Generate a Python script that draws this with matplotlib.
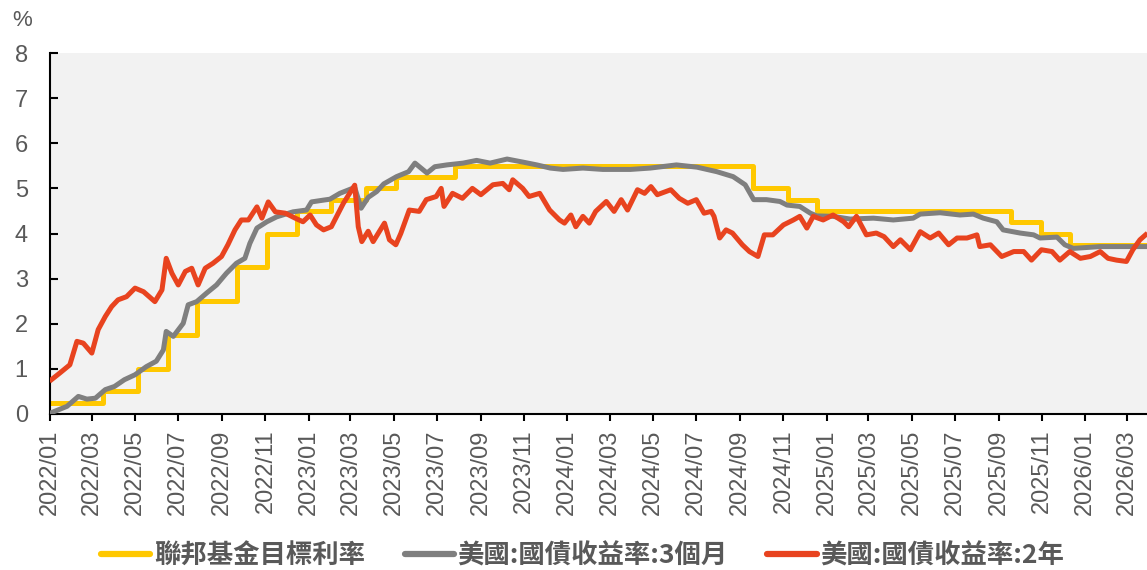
import pandas as pd
import matplotlib
matplotlib.use("Agg")
import matplotlib.pyplot as plt
import matplotlib.dates as mdates

# 聯邦基金目標利率 (上限), 階梯
fed_dates = ["2022-01-03", "2022-03-17", "2022-05-05", "2022-06-16", "2022-07-28",
             "2022-09-22", "2022-11-03", "2022-12-15", "2023-02-02", "2023-03-23",
             "2023-05-04", "2023-07-27", "2024-09-19", "2024-11-08", "2024-12-19",
             "2025-09-18", "2025-10-30", "2025-12-11", "2026-03-27"]
fed_rate = [0.25, 0.50, 1.00, 1.75, 2.50, 3.25, 4.00, 4.50, 4.75, 5.00,
            5.25, 5.50, 5.00, 4.75, 4.50, 4.25, 4.00, 3.75, 3.75]

# 美國:國債收益率:3個月
t3m_dates = ["2022-01-03", "2022-01-25", "2022-02-10", "2022-02-22", "2022-03-06",
             "2022-03-20", "2022-04-02", "2022-04-16", "2022-05-01", "2022-05-17",
             "2022-05-31", "2022-06-10", "2022-06-14", "2022-06-24", "2022-07-08",
             "2022-07-15", "2022-07-27", "2022-08-10", "2022-08-24", "2022-09-07",
             "2022-09-21", "2022-10-03", "2022-10-10", "2022-10-20", "2022-11-03",
             "2022-11-17", "2022-12-10", "2022-12-29", "2023-01-05", "2023-01-22",
             "2023-01-31", "2023-02-14", "2023-03-07", "2023-03-16", "2023-03-26",
             "2023-04-07", "2023-04-17", "2023-05-05", "2023-05-22", "2023-05-31",
             "2023-06-17", "2023-06-28", "2023-07-15", "2023-08-07", "2023-08-26",
             "2023-09-14", "2023-10-08", "2023-10-31", "2023-11-19", "2023-12-08",
             "2023-12-26", "2024-01-23", "2024-02-20", "2024-03-30", "2024-04-27",
             "2024-06-03", "2024-07-02", "2024-07-30", "2024-08-22", "2024-09-08",
             "2024-09-20", "2024-10-08", "2024-10-27", "2024-11-06", "2024-11-24",
             "2024-12-09", "2024-12-18", "2025-01-10", "2025-02-03", "2025-03-08",
             "2025-04-05", "2025-05-03", "2025-05-13", "2025-06-10", "2025-07-08",
             "2025-07-27", "2025-08-10", "2025-08-29", "2025-09-07", "2025-10-01",
             "2025-10-20", "2025-10-29", "2025-11-22", "2025-12-03", "2025-12-15",
             "2026-01-22", "2026-02-24", "2026-03-27"]
t3m = [0.03, 0.17, 0.39, 0.33, 0.35, 0.54, 0.61, 0.76, 0.87, 1.05,
       1.17, 1.42, 1.83, 1.72, 2.01, 2.42, 2.49, 2.68, 2.86, 3.12,
       3.34, 3.45, 3.78, 4.12, 4.26, 4.37, 4.48, 4.52, 4.70, 4.74,
       4.76, 4.89, 5.02, 4.56, 4.80, 4.93, 5.10, 5.26, 5.37, 5.56,
       5.34, 5.48, 5.52, 5.56, 5.62, 5.56, 5.65, 5.58, 5.52, 5.45,
       5.42, 5.45, 5.42, 5.42, 5.45, 5.52, 5.47, 5.37, 5.26, 5.08,
       4.75, 4.75, 4.71, 4.63, 4.60, 4.45, 4.39, 4.38, 4.32, 4.34,
       4.30, 4.34, 4.43, 4.46, 4.41, 4.43, 4.34, 4.26, 4.08, 4.01,
       3.97, 3.90, 3.92, 3.75, 3.67, 3.71, 3.71, 3.71]

# 美國:國債收益率:2年
t2y_dates = ["2022-01-03", "2022-01-15", "2022-01-29", "2022-02-08", "2022-02-17",
             "2022-03-01", "2022-03-10", "2022-03-20", "2022-03-29", "2022-04-07",
             "2022-04-19", "2022-05-01", "2022-05-13", "2022-05-29", "2022-06-08",
             "2022-06-14", "2022-06-22", "2022-07-01", "2022-07-11", "2022-07-20",
             "2022-07-29", "2022-08-08", "2022-08-19", "2022-08-31", "2022-09-09",
             "2022-09-19", "2022-09-28", "2022-10-08", "2022-10-20", "2022-10-27",
             "2022-11-05", "2022-11-15", "2022-11-29", "2022-12-13", "2022-12-24",
             "2023-01-03", "2023-01-12", "2023-01-22", "2023-02-02", "2023-02-14",
             "2023-02-19", "2023-03-07", "2023-03-12", "2023-03-17", "2023-03-26",
             "2023-04-02", "2023-04-18", "2023-04-25", "2023-05-04", "2023-05-11",
             "2023-05-23", "2023-06-06", "2023-06-16", "2023-06-30", "2023-07-07",
             "2023-07-11", "2023-07-23", "2023-08-06", "2023-08-20", "2023-09-01",
             "2023-09-18", "2023-10-02", "2023-10-11", "2023-10-16", "2023-10-30",
             "2023-11-08", "2023-11-23", "2023-12-07", "2023-12-21", "2023-12-28",
             "2024-01-06", "2024-01-13", "2024-01-23", "2024-02-01", "2024-02-10",
             "2024-02-25", "2024-03-07", "2024-03-17", "2024-03-26", "2024-04-09",
             "2024-04-19", "2024-04-28", "2024-05-07", "2024-05-26", "2024-06-07",
             "2024-06-19", "2024-07-01", "2024-07-12", "2024-07-22", "2024-07-26",
             "2024-08-03", "2024-08-12", "2024-08-21", "2024-09-04", "2024-09-14",
             "2024-09-26", "2024-10-05", "2024-10-17", "2024-11-01", "2024-11-15",
             "2024-11-24", "2024-12-04", "2024-12-13", "2024-12-27", "2025-01-10",
             "2025-01-25", "2025-02-01", "2025-02-12", "2025-02-26", "2025-03-12",
             "2025-03-23", "2025-04-05", "2025-04-15", "2025-04-29", "2025-05-13",
             "2025-05-27", "2025-06-08", "2025-06-22", "2025-07-04", "2025-07-18",
             "2025-08-01", "2025-08-05", "2025-08-20", "2025-09-05", "2025-09-22",
             "2025-10-06", "2025-10-17", "2025-10-31", "2025-11-15", "2025-11-26",
             "2025-12-10", "2025-12-25", "2026-01-08", "2026-01-22", "2026-02-02",
             "2026-02-14", "2026-02-28", "2026-03-09", "2026-03-19", "2026-03-27"]
t2y = [0.76, 0.91, 1.09, 1.61, 1.57, 1.35, 1.87, 2.16, 2.38, 2.53,
       2.60, 2.79, 2.71, 2.49, 2.75, 3.45, 3.12, 2.86, 3.16, 3.23,
       2.86, 3.23, 3.34, 3.49, 3.75, 4.08, 4.30, 4.30, 4.59, 4.34,
       4.70, 4.48, 4.45, 4.34, 4.26, 4.41, 4.19, 4.08, 4.15, 4.52,
       4.67, 5.07, 4.15, 3.82, 4.05, 3.82, 4.23, 3.86, 3.75, 4.00,
       4.52, 4.49, 4.75, 4.82, 5.00, 4.60, 4.89, 4.78, 5.00, 4.86,
       5.08, 5.11, 4.97, 5.19, 5.00, 4.82, 4.89, 4.52, 4.30, 4.23,
       4.41, 4.15, 4.38, 4.23, 4.49, 4.71, 4.49, 4.75, 4.52, 4.97,
       4.89, 5.04, 4.86, 4.97, 4.78, 4.67, 4.75, 4.45, 4.49, 4.38,
       3.90, 4.08, 4.01, 3.75, 3.60, 3.49, 3.97, 3.97, 4.19, 4.30,
       4.38, 4.12, 4.38, 4.30, 4.41, 4.26, 4.15, 4.38, 3.97, 4.01,
       3.93, 3.71, 3.86, 3.64, 4.04, 3.90, 4.01, 3.75, 3.90, 3.90,
       3.97, 3.71, 3.75, 3.49, 3.60, 3.60, 3.41, 3.64, 3.60, 3.41,
       3.60, 3.45, 3.49, 3.60, 3.45, 3.41, 3.38, 3.64, 3.86, 3.97]

labels = ["聯邦基金目標利率", "美國:國債收益率:3個月", "美國:國債收益率:2年"]
colors = ["#FFC800", "#7F7F7F", "#E8431F"]

txt_col = "#595959"
plt.rcParams['font.family'] = ['Liberation Sans', 'DejaVu Sans']

fig = plt.figure(figsize=(11.47, 5.70), dpi=100)
ax = fig.add_axes([50 / 1147, 1 - 414 / 570, 1 - 50 / 1147, (414 - 53) / 570])
ax.set_facecolor("#F2F2F2")

ax.plot(pd.to_datetime(fed_dates), fed_rate, drawstyle="steps-post",
        color=colors[0], lw=3.6, label=labels[0], zorder=2)
ax.plot(pd.to_datetime(t3m_dates), t3m, color=colors[1], lw=3.6,
        label=labels[1], zorder=3)
ax.plot(pd.to_datetime(t2y_dates), t2y, color=colors[2], lw=3.6,
        label=labels[2], zorder=4)

ax.set_ylim(0, 8)
ax.set_yticks(range(0, 9))
ax.set_xlim(pd.Timestamp("2022-01-01"), pd.Timestamp("2026-03-29"))
ax.xaxis.set_major_locator(mdates.MonthLocator(bymonth=[1, 3, 5, 7, 9, 11]))
ax.xaxis.set_major_formatter(mdates.DateFormatter("%Y/%m"))

for s in ["top", "right"]:
    ax.spines[s].set_visible(False)
ax.spines["left"].set_linewidth(1.5)
ax.spines["bottom"].set_linewidth(1.5)

ax.tick_params(axis="y", direction="in", length=6, width=1.5, pad=16,
               labelsize=17, labelcolor=txt_col)
ax.tick_params(axis="x", direction="out", length=5, width=1.5, pad=6,
               labelsize=17, labelcolor=txt_col, labelrotation=90)

fig.text(22 / 1147, 1 - 21 / 570, "%", fontsize=16, color=txt_col,
         ha="center", va="center")

leg = fig.legend(loc="center", bbox_to_anchor=(0.508, 1 - 556 / 570), ncol=3,
                 frameon=False, handlelength=1.86, handletextpad=0.15,
                 columnspacing=1.5,
                 prop={"family": ["Noto Sans CJK TC", "DejaVu Sans"],
                       "weight": "bold", "size": 19})
for t in leg.get_texts():
    t.set_color(txt_col)
for l in leg.get_lines():
    l.set_linewidth(4.5)
    l.set_solid_capstyle("round")

fig.savefig("out.png", dpi=100)
